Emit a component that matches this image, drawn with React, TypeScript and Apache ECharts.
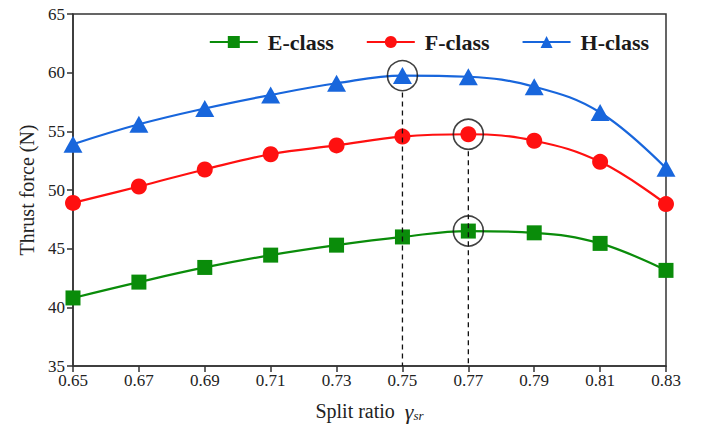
import React, { useEffect, useRef } from "react";
import * as echarts from "echarts";

const categories = ["0.65", "0.67", "0.69", "0.71", "0.73", "0.75", "0.77", "0.79", "0.81", "0.83"];
const eClass = [40.8, 42.15, 43.4, 44.45, 45.3, 46.0, 46.5, 46.35, 45.45, 43.15];
const fClass = [48.9, 50.3, 51.75, 53.05, 53.8, 54.55, 54.75, 54.2, 52.4, 48.8];
const hClass = [53.9, 55.6, 56.95, 58.1, 59.1, 59.75, 59.65, 58.8, 56.6, 51.85];
const yTicks = { min: 35, max: 65, interval: 5 };
// highlighted optimum points: [category, value]
const highlights: [string, number][] = [
  ["0.75", 59.75],
  ["0.77", 54.75],
  ["0.77", 46.5],
];
// dashed guide lines: [category, from value, to value]
const guides: [string, number, number][] = [
  ["0.75", 58.3, 35],
  ["0.77", 53.3, 35],
];

const GREEN = "#0a8c0a";
const RED = "#ff1010";
const BLUE = "#1866dc";
const FONT = "'Liberation Serif', 'Times New Roman', serif";

export default function App() {
  const ref = useRef<HTMLDivElement>(null);
  useEffect(() => {
    document.body.style.margin = "0";
    if (!ref.current) return;
    const chart = echarts.init(ref.current, null, { renderer: "svg" });
    const lineSeries = (name: string, data: number[], color: string, symbol: string, size: number | number[]) => ({
      name,
      type: "line",
      data,
      smooth: 0.4,
      symbol,
      symbolSize: size,
      showAllSymbol: true,
      lineStyle: { color, width: 2.2 },
      itemStyle: { color, borderWidth: 0 },
      z: 3,
    });
    chart.setOption({
      animation: false,
      backgroundColor: "#fff",
      textStyle: { fontFamily: FONT },
      grid: {
        left: 73,
        right: 42,
        top: 14,
        bottom: 76,
        show: true,
        borderColor: "#333",
        borderWidth: 1.5,
        backgroundColor: "transparent",
      },
      legend: {
        data: [{ name: "E-class" }, { name: "F-class" }, { name: "H-class" }],
        right: 54,
        top: 26,
        itemWidth: 48,
        itemHeight: 15,
        itemGap: 32,
        textStyle: {
          fontFamily: FONT,
          fontWeight: "bold",
          fontSize: 22,
          color: "#1a1a1a",
          padding: [0, 0, 0, 5],
        },
      },
      xAxis: {
        type: "category",
        data: categories,
        boundaryGap: false,
        axisLine: { lineStyle: { color: "#333", width: 1.5 } },
        axisTick: { show: true, length: 6, alignWithLabel: true, lineStyle: { color: "#333", width: 1.5 } },
        axisLabel: { fontFamily: FONT, fontSize: 17, color: "#222", margin: 6 },
        splitLine: { show: false },
        name: "Split ratio  {g|γ}{s|sr}",
        nameLocation: "middle",
        nameGap: 34,
        nameTextStyle: {
          fontFamily: FONT,
          fontSize: 20,
          color: "#222",
          rich: {
            g: { fontFamily: FONT, fontStyle: "italic", fontSize: 22, color: "#222" },
            s: { fontFamily: FONT, fontStyle: "italic", fontSize: 13, color: "#222", padding: [9, 0, 0, 0] },
          },
        },
      },
      yAxis: {
        type: "value",
        min: yTicks.min,
        max: yTicks.max,
        interval: yTicks.interval,
        axisLine: { show: true, lineStyle: { color: "#333", width: 1.5 } },
        axisTick: { show: true, length: 6, lineStyle: { color: "#333", width: 1.5 } },
        axisLabel: { fontFamily: FONT, fontSize: 17, color: "#222", margin: 8 },
        splitLine: { show: false },
        name: "Thrust force (N)",
        nameLocation: "middle",
        nameGap: 36,
        nameTextStyle: { fontFamily: FONT, fontSize: 20, color: "#222" },
      },
      series: [
        lineSeries("E-class", eClass, GREEN, "rect", 15),
        lineSeries("F-class", fClass, RED, "circle", 16),
        lineSeries("H-class", hClass, BLUE, "triangle", [19, 17]),
        ...guides.map((g, i) => ({
          name: "guide" + i,
          type: "line",
          data: [
            [g[0], g[1]],
            [g[0], g[2]],
          ],
          symbol: "none",
          lineStyle: { color: "#111", width: 1.3, type: [5, 4] },
          z: 6,
          silent: true,
        })),
        {
          name: "highlight",
          type: "scatter",
          data: highlights,
          symbol: "circle",
          symbolSize: 30,
          itemStyle: { color: "rgba(0,0,0,0)", borderColor: "#111", borderWidth: 1.6 },
          z: 7,
          silent: true,
        },
      ],
    });
    return () => chart.dispose();
  }, []);
  return <div ref={ref} style={{ width: 708, height: 442 }} />;
}
